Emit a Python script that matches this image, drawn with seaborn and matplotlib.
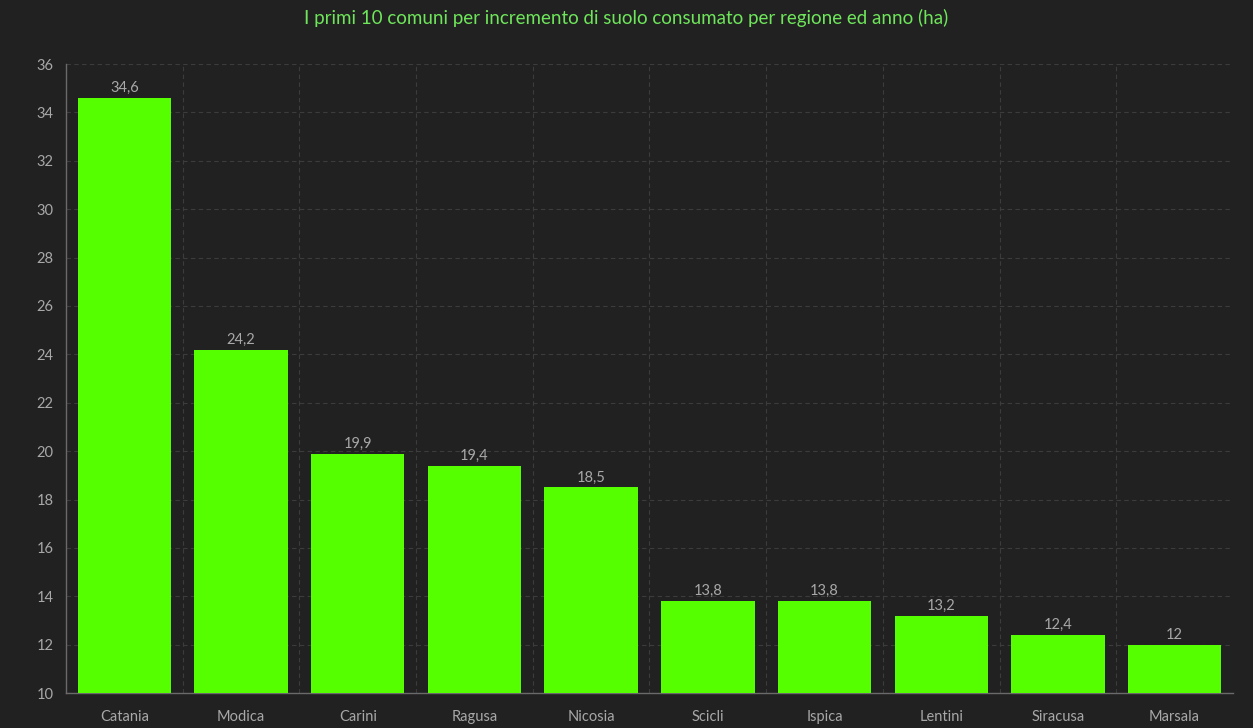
import matplotlib
matplotlib.use("Agg")
import matplotlib.pyplot as plt
import seaborn as sns
import pandas as pd
import numpy as np
from matplotlib.ticker import MultipleLocator, FixedLocator

comuni = ["Catania", "Modica", "Carini", "Ragusa", "Nicosia", "Scicli", "Ispica", "Lentini", "Siracusa", "Marsala"]
valori = [34.6, 24.2, 19.9, 19.4, 18.5, 13.8, 13.8, 13.2, 12.4, 12.0]
titolo = "I primi 10 comuni per incremento di suolo consumato per regione ed anno (ha)"

df = pd.DataFrame({"comune": comuni, "valore": valori})

sns.set_theme(style="dark")
plt.rcParams['font.family'] = ['Lato', 'DejaVu Sans']

bg = "#212121"
grid_c = "#3c3c3c"
text_c = "#a8a8a8"
bar_c = "#55ff00"

fig = plt.figure(figsize=(12.53, 7.28), dpi=100, facecolor=bg)
ax = fig.add_axes([0.0527, 0.048, 0.9313, 0.864])
ax.set_facecolor(bg)

sns.barplot(data=df, x="comune", y="valore", color=bar_c, saturation=1, width=0.8,
            edgecolor="none", linewidth=0, ax=ax, zorder=3)

ax.set_ylim(10, 36)
ax.set_xlim(-0.5, len(comuni) - 0.5)
ax.yaxis.set_major_locator(MultipleLocator(2))
ax.xaxis.set_minor_locator(FixedLocator(np.arange(0.5, len(comuni) - 0.5, 1)))
ax.grid(True, axis="y", which="major", color=grid_c, linestyle=(0, (4, 3)), linewidth=0.8, zorder=0)
ax.grid(True, axis="x", which="minor", color=grid_c, linestyle=(0, (4, 3)), linewidth=0.8, zorder=0)
ax.grid(False, axis="x", which="major")
ax.tick_params(axis="x", which="minor", length=0)

ax.set_xlabel("")
ax.set_ylabel("")
for s in ["top", "right"]:
    ax.spines[s].set_visible(False)
for s in ["left", "bottom"]:
    ax.spines[s].set_visible(True)
    ax.spines[s].set_color("#6a6a6a")
    ax.spines[s].set_linewidth(1)

ax.tick_params(axis="both", which="major", colors="#6a6a6a", labelcolor=text_c, labelsize=10.5, length=5, width=1, direction="out")
ax.tick_params(axis="x", which="major", pad=7)
ax.tick_params(axis="y", which="major", pad=4)

labels = [(f"{v:.1f}".replace(".", ",") if v != int(v) else f"{int(v)}") for v in valori]
ax.bar_label(ax.containers[0], labels=labels, color=text_c, fontsize=10.5, padding=2)

fig.text(0.5, 0.975, titolo, ha="center", va="center", color="#6ee65a", fontsize=13.5)

fig.savefig("out.png", dpi=100, facecolor=bg)
